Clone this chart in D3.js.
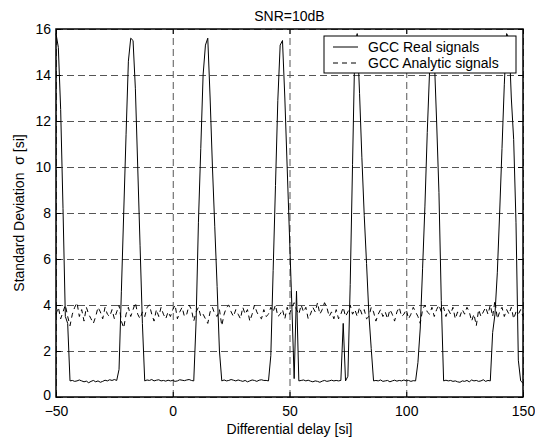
<!DOCTYPE html>
<html>
<head>
<meta charset="utf-8">
<script src="https://cdn.jsdelivr.net/npm/d3@7"></script>
<style>
	body { margin: 0; background: #fff; }
	text { font-family: Arial, "Liberation Sans", sans-serif; }
</style>
</head>
<body>
<script>
/* Data: one sample per unit of delay, -50 .. 150 */

var delayStart = -50;
var delayEnd = 150;

var xTicks = [-50, 0, 50, 100, 150];
var yTicks = [0, 2, 4, 6, 8, 10, 12, 14, 16];

var seriesNames = ["GCC Real signals", "GCC Analytic signals"];

var realSignal = [
	15.8, 15.2, 12.5, 8.2, 3.5, 3.2, 0.7, 0.72, 0.68, 0.7,
	0.74, 0.7, 0.66, 0.69, 0.62, 0.68, 0.72, 0.66, 0.7, 0.64,
	0.68, 0.73, 0.7, 0.75, 0.72, 0.76, 0.72, 1.2, 4.6, 8.0,
	11.4, 14.6, 15.6, 15.5, 13.4, 10.0, 6.6, 3.2, 0.7, 0.74,
	0.72, 0.76, 0.7, 0.73, 0.75, 0.7, 0.72, 0.69, 0.73, 0.7,
	0.72, 0.68, 0.7, 0.75, 0.73, 0.71, 0.74, 0.76, 0.72, 0.7,
	3.3, 7.6, 10.8, 14.0, 15.3, 15.6, 13.0, 10.0, 7.4, 4.8,
	2.0, 0.7, 0.74, 0.7, 0.72, 0.76, 0.73, 0.7, 0.74, 0.71,
	0.68, 0.72, 0.66, 0.7, 0.74, 0.72, 0.68, 0.73, 0.75, 0.72,
	0.72, 0.7, 1.8, 5.5, 9.2, 12.9, 15.3, 15.5, 13.0, 10.0,
	7.0, 4.0, 0.8, 4.6, 0.7, 0.72, 0.74, 0.7, 0.73, 0.69,
	0.66, 0.7, 0.68, 0.64, 0.69, 0.72, 0.68, 0.7, 0.73, 0.7,
	0.72, 0.7, 0.72, 3.2, 0.7, 0.9, 4.9, 10.1, 15.3, 15.8,
	13.2, 10.4, 7.9, 5.8, 3.6, 2.1, 0.7, 0.72, 0.7, 0.74,
	0.68, 0.7, 0.72, 0.66, 0.7, 0.73, 0.69, 0.72, 0.7, 0.74,
	0.7, 0.72, 0.68, 0.71, 0.7, 1.5, 3.0, 5.6, 8.3, 11.5,
	14.2, 15.3, 14.8, 12.0, 8.9, 4.2, 0.7, 0.73, 0.7, 0.72,
	0.68, 0.7, 0.66, 0.64, 0.7, 0.68, 0.72, 0.66, 0.74, 0.7,
	0.72, 0.68, 0.7, 0.75, 0.68, 0.72, 0.7, 2.8, 3.6, 5.4,
	8.0, 10.8, 13.6, 15.8, 15.6, 13.0, 11.2, 7.6, 1.6, 0.7,
	0.6
];

var analyticSignal = [
	3.6, 3.9, 3.4, 3.7, 4.0, 3.5, 3.1, 3.6, 3.9, 4.1,
	3.5, 3.8, 3.3, 3.9, 3.6, 3.4, 3.2, 3.5, 3.9, 3.7,
	3.4, 3.9, 3.6, 3.5, 3.8, 3.4, 3.7, 4.0, 3.3, 3.0,
	3.6, 3.9, 3.5, 3.8, 4.1, 3.6, 3.4, 3.7, 3.5, 3.9,
	4.0, 3.6, 3.3, 3.8, 3.5, 3.9, 3.6, 3.4, 3.7, 3.5,
	3.8, 4.0, 3.4, 3.7, 3.9, 3.5, 3.6, 4.0, 3.8, 3.3,
	3.7, 3.9, 3.5, 3.6, 3.4, 3.2, 3.7, 3.9, 3.6, 3.5,
	3.8, 3.1, 3.6, 3.9, 4.0, 3.7, 3.5, 3.8, 3.6, 3.4,
	3.9, 3.6, 3.8, 3.3, 3.6, 4.0, 3.7, 3.5, 3.4, 3.8,
	3.5, 3.6, 3.9, 3.7, 4.0, 3.5, 3.6, 3.8, 3.4, 3.9,
	3.6, 3.9, 4.1, 3.8, 3.6, 4.0, 3.7, 3.9, 3.4, 3.6,
	3.9, 3.7, 4.1, 3.6, 3.8, 4.1, 3.9, 3.5, 3.7, 3.4,
	3.8, 3.4, 3.6, 3.9, 3.5, 3.7, 4.0, 3.6, 3.8, 3.5,
	3.9, 3.6, 3.8, 3.4, 3.5, 3.9, 3.7, 3.3, 3.6, 3.8,
	3.5, 3.7, 3.4, 3.8, 3.6, 3.3, 3.7, 3.9, 3.5, 3.6,
	3.8, 3.4, 3.6, 3.9, 3.7, 3.5, 3.2, 3.8, 4.0, 3.7,
	3.6, 3.9, 3.5, 3.8, 4.0, 3.7, 3.9, 3.5, 3.8, 3.6,
	3.9, 3.4, 3.7, 3.5, 3.8, 3.6, 3.9, 3.7, 3.3, 3.6,
	3.1, 3.8, 3.5, 3.7, 3.9, 3.6, 4.0, 3.5, 4.2, 3.4,
	3.7, 3.9, 3.5, 3.8, 3.6, 3.9, 3.4, 3.7, 3.6, 3.8,
	3.5
];

var delays = d3.range(delayStart, delayEnd + 1);


/* Canvas */

var width = 535;
var height = 441;
var margin = {top: 29, right: 12, bottom: 44, left: 56};
var innerW = width - margin.left - margin.right;
var innerH = height - margin.top - margin.bottom;

var svg = d3.select("body").append("svg")
	.attr("width", width)
	.attr("height", height)
	.style("background", "#fff");

var x = d3.scaleLinear().domain([delayStart, delayEnd]).range([0, innerW]);
var y = d3.scaleLinear().domain([0, 16]).range([innerH, 0]);

var g = svg.append("g")
	.attr("transform", "translate(" + margin.left + "," + margin.top + ")");

// dashed grid
var grid = g.append("g").attr("class", "grid");

grid.append("g")
	.attr("transform", "translate(0," + innerH + ")")
	.call(d3.axisBottom(x).tickValues(xTicks).tickSize(-innerH).tickFormat(""));

grid.append("g")
	.call(d3.axisLeft(y).tickValues(yTicks).tickSize(-innerW).tickFormat(""));

grid.selectAll(".domain").remove();
grid.selectAll("line")
	.attr("stroke", "#555")
	.attr("stroke-width", 1)
	.attr("stroke-dasharray", "7,4");

// series
var line = d3.line()
	.x(function(d, i) { return x(delays[i]); })
	.y(function(d) { return y(d); });

g.append("path")
	.datum(analyticSignal)
	.attr("fill", "none")
	.attr("stroke", "#000")
	.attr("stroke-width", 1)
	.attr("stroke-dasharray", "5,4")
	.attr("d", line);

g.append("path")
	.datum(realSignal)
	.attr("fill", "none")
	.attr("stroke", "#000")
	.attr("stroke-width", 1)
	.attr("d", line);

// axes, ticks pointing inwards on all four sides
function styleAxis(sel) {
	sel.select(".domain").remove();
	sel.selectAll("line").attr("stroke", "#000");
	sel.selectAll("text")
		.attr("fill", "#000")
		.style("font-size", "14px");
}

g.append("g")
	.attr("transform", "translate(0," + innerH + ")")
	.call(d3.axisBottom(x).tickValues(xTicks).tickSizeInner(-5).tickSizeOuter(0).tickPadding(9))
	.call(styleAxis);

g.append("g")
	.call(d3.axisTop(x).tickValues(xTicks).tickSizeInner(-5).tickSizeOuter(0).tickFormat(""))
	.call(styleAxis);

var yAxisG = g.append("g")
	.call(d3.axisLeft(y).tickValues(yTicks).tickSizeInner(-5).tickSizeOuter(0).tickPadding(5))
	.call(styleAxis);

// the "0" sits a touch higher so it clears the "-50" below it
yAxisG.selectAll(".tick text")
	.filter(function(d) { return d == 0; })
	.attr("dy", "0.2em");

g.append("g")
	.attr("transform", "translate(" + innerW + ",0)")
	.call(d3.axisRight(y).tickValues(yTicks).tickSizeInner(-5).tickSizeOuter(0).tickFormat(""))
	.call(styleAxis);

g.append("rect")
	.attr("width", innerW)
	.attr("height", innerH)
	.attr("fill", "none")
	.attr("stroke", "#000")
	.attr("stroke-width", 1.5);

// legend
var legend = g.append("g")
	.attr("transform", "translate(" + (324 - margin.left) + "," + (36 - margin.top) + ")");

legend.append("rect")
	.attr("width", 192)
	.attr("height", 37)
	.attr("fill", "#fff")
	.attr("stroke", "#000")
	.attr("stroke-width", 1);

legend.selectAll("line.key")
	.data(seriesNames)
	.enter().append("line")
		.attr("class", "key")
		.attr("x1", 9)
		.attr("x2", 34)
		.attr("y1", function(d, i) { return 11 + i * 16; })
		.attr("y2", function(d, i) { return 11 + i * 16; })
		.attr("stroke", "#000")
		.attr("stroke-width", 1)
		.attr("stroke-dasharray", function(d, i) { return i == 1 ? "5,4" : null; });

legend.selectAll("text")
	.data(seriesNames)
	.enter().append("text")
		.attr("x", 44)
		.attr("y", function(d, i) { return 16 + i * 16; })
		.style("font-size", "14px")
		.text(function(d) { return d; });

// labels
svg.append("text")
	.attr("x", margin.left + innerW / 2)
	.attr("y", 21)
	.attr("text-anchor", "middle")
	.style("font-size", "14px")
	.text("SNR=10dB");

svg.append("text")
	.attr("x", margin.left + innerW / 2)
	.attr("y", 434)
	.attr("text-anchor", "middle")
	.style("font-size", "14px")
	.text("Differential delay [si]");

svg.append("text")
	.attr("transform", "translate(24," + (margin.top + innerH / 2) + ") rotate(-90)")
	.attr("text-anchor", "middle")
	.style("font-size", "14px")
	.style("white-space", "pre")
	.text("Standard Deviation  \u03c3 [si]");
</script>
</body>
</html>
